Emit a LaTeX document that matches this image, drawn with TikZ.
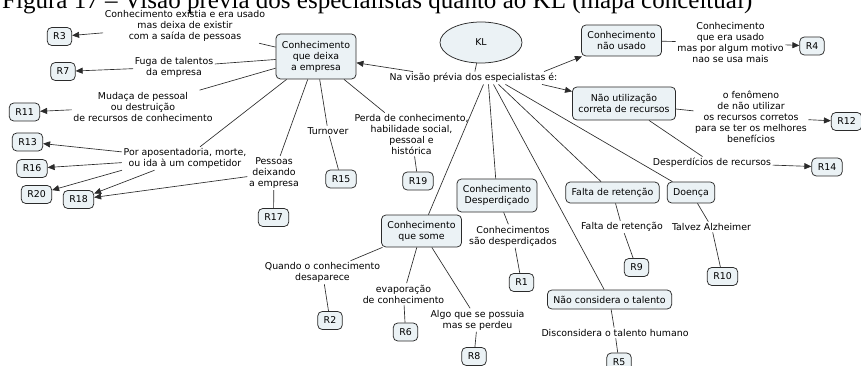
\documentclass[tikz,border=0pt]{standalone}
\usepackage{fontspec}
\setmainfont{DejaVu Sans}
\newfontfamily\captfont{Liberation Serif}
\usetikzlibrary{arrows.meta,shapes.geometric}
\definecolor{cfill}{HTML}{EBF2F5}
\definecolor{cline}{HTML}{2B2B2B}

\begin{document}
\begin{tikzpicture}[x=1pt,y=-1pt,
  every node/.style={font=\fontsize{9.4}{11}\selectfont},
  concept/.style={draw=cline, fill=cfill, rounded corners=4.5pt, align=center,
    inner xsep=6pt, inner ysep=2pt, line width=0.75pt},
  rbox/.style={concept, minimum height=18pt},
  lbl/.style={align=center, inner sep=1.5pt},
  link/.style={draw=cline, line width=0.65pt},
  arr/.style={link, -{Triangle[length=7pt,width=6pt]}},
]
\path[use as bounding box, fill=white] (0,0) rectangle (861,366);
\clip (0,0) rectangle (861,366);

% caption line
\node[anchor=base west, inner sep=0] (caption) at (2,9)
  {\resizebox{750pt}{!}{\captfont Figura 17 – Visão prévia dos especialistas quanto ao KL (mapa conceitual)}};

% central concept
\node[draw=cline, fill=cfill, ellipse, line width=0.75pt, minimum width=82pt, minimum height=41pt] (KL) at (481,42.5) {KL};
\node[lbl] (lNa) at (473.5,78) {Na visão prévia dos especialistas é:};

% concepts
\node[concept, minimum height=45pt] (deixa) at (316,56.5) {Conhecimento\\que deixa\\a empresa};
\node[concept, minimum height=31pt] (naoUsado) at (621.5,40.5) {Conhecimento\\não usado};
\node[concept, minimum height=33pt] (naoUtil) at (624,103.5) {Não utilização\\correta de recursos};
\node[concept, minimum height=33pt] (desperd) at (497,195.5) {Conhecimento\\Desperdiçado};
\node[concept, minimum height=21pt] (falta) at (612.5,192.5) {Falta de retenção};
\node[concept, minimum height=21pt] (doenca) at (691,192.5) {Doença};
\node[concept, minimum height=19pt] (talento) at (609.5,299.5) {Não considera o talento};
\node[concept, minimum height=32pt] (some) at (421.5,231) {Conhecimento\\que some};

% linking phrases
\node[lbl] (lExistia) at (185,26) {Conhecimento existia e era usado\\mas deixa de existir\\com a saída de pessoas};
\node[lbl] (lFuga) at (174,67) {Fuga de talentos\\da empresa};
\node[lbl] (lMudaca) at (143,106.5) {Mudaça de pessoal\\ou destruição\\de recursos de conhecimento};
\node[lbl] (lPor) at (185,158.5) {Por aposentadoria, morte,\\ou ida à um competidor};
\node[lbl] (lPessoas) at (274,173) {Pessoas\\deixando\\a empresa};
\node[lbl] (lTurn) at (328,131) {Turnover};
\node[lbl] (lPerda) at (411.5,134.5) {Perda de conhecimento,\\habilidade social,\\pessoal e\\histórica};
\node[lbl] (lUsado) at (730.5,42.5) {Conhecimento\\que era usado\\mas por algum motivo\\nao se usa mais};
\node[lbl] (lFen) at (751,117) {o fenômeno\\de não utilizar\\os recursos corretos\\para se ter os melhores\\benefícios};
\node[lbl] (lDesp) at (712,163) {Desperdícios de recursos};
\node[lbl] (lSaoDesp) at (513,236) {Conhecimentos\\são desperdiçados};
\node[lbl] (lFalta) at (622,227) {Falta de retenção};
\node[lbl] (lTalvez) at (711.5,227) {Talvez Alzheimer};
\node[lbl] (lDiscons) at (615,333) {Disconsidera o talento humano};
\node[lbl] (lQuando) at (322.5,272.5) {Quando o conhecimento\\desaparece};
\node[lbl] (lEvap) at (403.5,294) {evaporação\\de conhecimento};
\node[lbl] (lAlgo) at (477.5,320) {Algo que se possuia\\mas se perdeu};

% result boxes
\node[rbox] (R3) at (59.5,36.5) {R3};
\node[rbox] (R7) at (63,71.5) {R7};
\node[rbox] (R11) at (24.5,112) {R11};
\node[rbox] (R13) at (27.5,142) {R13};
\node[rbox] (R16) at (32,168.5) {R16};
\node[rbox] (R20) at (36.5,194.5) {R20};
\node[rbox] (R18) at (78.5,199.5) {R18};
\node[rbox] (R17) at (273.5,217.5) {R17};
\node[rbox] (R15) at (341,179) {R15};
\node[rbox] (R19) at (418,181) {R19};
\node[rbox] (R4) at (812,46) {R4};
\node[rbox] (R12) at (846.5,121.5) {R12};
\node[rbox] (R14) at (827,167) {R14};
\node[rbox] (R1) at (521.5,282.5) {R1};
\node[rbox] (R9) at (636.5,267.5) {R9};
\node[rbox] (R10) at (722.5,276.5) {R10};
\node[rbox] (R5) at (619,362) {R5};
\node[rbox] (R2) at (330,320.5) {R2};
\node[rbox] (R6) at (405.5,332) {R6};
\node[rbox] (R8) at (474,356.5) {R8};

% links from the central phrase
\draw[link] (KL) -- (lNa);
\draw[arr] ([xshift=25pt]lNa.north west) -- (deixa);
\draw[arr] ([xshift=-15pt]lNa.north east) -- (naoUsado);
\draw[arr] ([xshift=-17pt]lNa.south east) -- (naoUtil);
\draw[link] ([xshift=10pt]lNa.south) -- (some);
\draw[link] ([xshift=15pt]lNa.south) -- (desperd);
\draw[link] ([xshift=20pt]lNa.south) -- (talento);
\draw[link] ([xshift=25pt]lNa.south) -- (falta);
\draw[link] ([xshift=32pt]lNa.south) -- (doenca);

% knowledge leaving the company
\draw[link] (deixa) -- (lExistia);
\draw[arr] (lExistia) -- (R3);
\draw[link] (deixa) -- (lFuga);
\draw[arr] (lFuga) -- (R7);
\draw[link] (deixa) -- (lMudaca);
\draw[arr] (lMudaca) -- (R11);
\draw[link] (deixa) -- (lPor);
\draw[arr] (lPor) -- (R13);
\draw[arr] (lPor) -- (R16);
\draw[arr] (lPor.south west) -- (R20);
\draw[arr] (lPor) -- (R18);
\draw[link] (deixa) -- (lPessoas);
\draw[arr] (lPessoas) -- (R18);
\draw[link] (lPessoas) -- (R17);
\draw[link] (deixa) -- (lTurn);
\draw[link] (lTurn) -- (R15);
\draw[link] (deixa) -- (lPerda);
\draw[link] (lPerda) -- (R19);

% unused knowledge and resources
\draw[link] (naoUsado) -- (lUsado);
\draw[arr] (lUsado) -- (R4);
\draw[link] (naoUtil) -- (lFen);
\draw[arr] (lFen) -- (R12);
\draw[link] (naoUtil) -- (lDesp);
\draw[arr] (lDesp) -- (R14);

% lower branches
\draw[link] (desperd) -- (lSaoDesp);
\draw[link] (lSaoDesp) -- (R1);
\draw[link] (falta) -- (lFalta);
\draw[link] (lFalta) -- (R9);
\draw[link] (doenca) -- (lTalvez);
\draw[link] (lTalvez) -- (R10);
\draw[link] (talento) -- (lDiscons);
\draw[link] (lDiscons) -- (R5);
\draw[link] (some) -- (lQuando);
\draw[link] (lQuando) -- (R2);
\draw[link] (some) -- (lEvap);
\draw[link] (lEvap) -- (R6);
\draw[link] (some) -- (lAlgo);
\draw[link] (lAlgo) -- (R8);
\end{tikzpicture}
\end{document}
